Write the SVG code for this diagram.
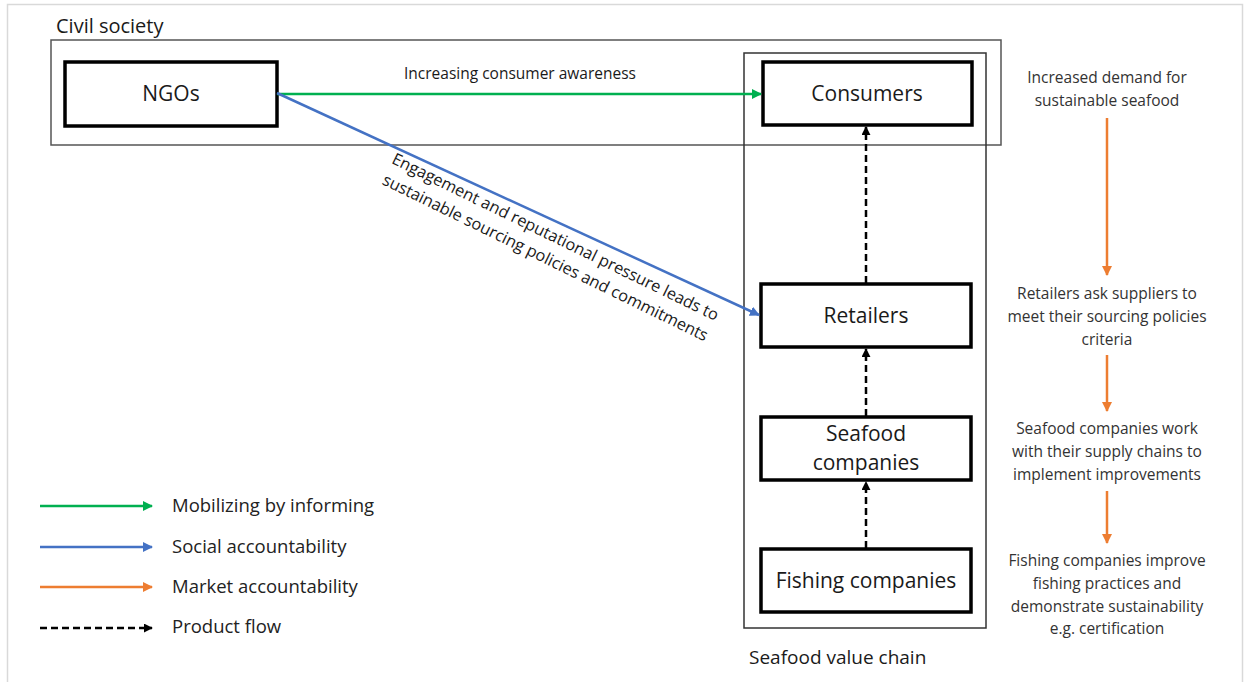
<svg xmlns="http://www.w3.org/2000/svg" width="1246" height="682" viewBox="0 0 1246 682">
<defs>
<style>
text{font-family:"Open Sans",Lato,"Liberation Sans",sans-serif;fill:#1a1a1a}
.node{fill:#fff;stroke:#000;stroke-width:3.5}
.nl{font-size:21px;text-anchor:middle}
.side{font-size:15.5px;text-anchor:middle;fill:#333}
.leg{font-size:18.5px;fill:#222}
.g{stroke:#00B050;stroke-width:2.5;fill:none}
.b{stroke:#4472C4;stroke-width:2.5;fill:none}
.o{stroke:#ED7D31;stroke-width:2.5;fill:none}
.d{stroke:#000;stroke-width:2.5;fill:none;stroke-dasharray:7 4}
</style>
<marker id="mg" viewBox="0 0 10 10" refX="9" refY="5" markerWidth="4" markerHeight="4" orient="auto"><path d="M0,0L10,5L0,10z" fill="#00B050"/></marker>
<marker id="mb" viewBox="0 0 10 10" refX="9" refY="5" markerWidth="4" markerHeight="4" orient="auto"><path d="M0,0L10,5L0,10z" fill="#4472C4"/></marker>
<marker id="mo" viewBox="0 0 10 10" refX="9" refY="5" markerWidth="4" markerHeight="4" orient="auto"><path d="M0,0L10,5L0,10z" fill="#ED7D31"/></marker>
<marker id="md" viewBox="0 0 10 10" refX="9" refY="5" markerWidth="3.6" markerHeight="3.6" orient="auto"><path d="M0,0L10,5L0,10z" fill="#000"/></marker>
</defs>
<rect width="1246" height="682" fill="#fff"/>
<rect x="7.5" y="4.5" width="1235" height="690" fill="none" stroke="#d9d9d9" stroke-width="1.5"/>

<g id="civil-society">
<rect x="51" y="40" width="950" height="105" fill="none" stroke="#555" stroke-width="1.5"/>
<text x="56" y="33" font-size="20">Civil society</text>
</g>
<g id="value-chain">
<rect x="744" y="53" width="242" height="575" fill="none" stroke="#333" stroke-width="1.5"/>
<text x="749" y="664" font-size="19">Seafood value chain</text>
</g>

<g id="ngos"><rect class="node" x="65" y="62" width="212" height="64"/><text class="nl" x="171" y="101">NGOs</text></g>
<g id="consumers"><rect class="node" x="763" y="62" width="209" height="63"/><text class="nl" x="867" y="101">Consumers</text></g>
<g id="retailers"><rect class="node" x="761" y="284" width="210" height="63"/><text class="nl" x="866" y="323">Retailers</text></g>
<g id="seafood-companies"><rect class="node" x="761" y="417" width="210" height="63"/><text class="nl" x="866" y="441">Seafood</text><text class="nl" x="866" y="470">companies</text></g>
<g id="fishing-companies"><rect class="node" x="761" y="549" width="210" height="63"/><text class="nl" x="866" y="588">Fishing companies</text></g>

<g id="connectors">
<line class="g" x1="277" y1="94" x2="761" y2="94" marker-end="url(#mg)"/>
<text x="520" y="79" font-size="15.5" text-anchor="middle" fill="#333">Increasing consumer awareness</text>
<line class="b" x1="277" y1="93" x2="759" y2="315" marker-end="url(#mb)"/>
<g transform="translate(553,242) rotate(26)"><text x="0" y="0" font-size="16.3" text-anchor="middle" fill="#222">Engagement and reputational pressure leads to</text><text x="0" y="23" font-size="16.3" text-anchor="middle" fill="#222">sustainable sourcing policies and commitments</text></g>
<line class="d" x1="866" y1="283" x2="866" y2="127" marker-end="url(#md)"/>
<line class="d" x1="866" y1="416" x2="866" y2="349" marker-end="url(#md)"/>
<line class="d" x1="866" y1="548" x2="866" y2="482" marker-end="url(#md)"/>
<line class="o" x1="1107" y1="118" x2="1107" y2="275" marker-end="url(#mo)"/>
<line class="o" x1="1107" y1="355" x2="1107" y2="411" marker-end="url(#mo)"/>
<line class="o" x1="1107" y1="491" x2="1107" y2="543" marker-end="url(#mo)"/>
</g>

<g id="side-notes">
<text class="side" x="1107" y="83">Increased demand for</text>
<text class="side" x="1107" y="106">sustainable seafood</text>
<text class="side" x="1107" y="299">Retailers ask suppliers to</text>
<text class="side" x="1107" y="322">meet their sourcing policies</text>
<text class="side" x="1107" y="345">criteria</text>
<text class="side" x="1107" y="434">Seafood companies work</text>
<text class="side" x="1107" y="457">with their supply chains to</text>
<text class="side" x="1107" y="480">implement improvements</text>
<text class="side" x="1107" y="566">Fishing companies improve</text>
<text class="side" x="1107" y="589">fishing practices and</text>
<text class="side" x="1107" y="612">demonstrate sustainability</text>
<text class="side" x="1107" y="634">e.g. certification</text>
</g>

<g id="legend">
<line class="g" x1="40" y1="506" x2="152" y2="506" marker-end="url(#mg)"/>
<line class="b" x1="40" y1="547" x2="152" y2="547" marker-end="url(#mb)"/>
<line class="o" x1="40" y1="587" x2="152" y2="587" marker-end="url(#mo)"/>
<line class="d" x1="40" y1="628" x2="152" y2="628" marker-end="url(#md)"/>
<text class="leg" x="172" y="512">Mobilizing by informing</text>
<text class="leg" x="172" y="553">Social accountability</text>
<text class="leg" x="172" y="593">Market accountability</text>
<text class="leg" x="172" y="633">Product flow</text>
</g>
</svg>
